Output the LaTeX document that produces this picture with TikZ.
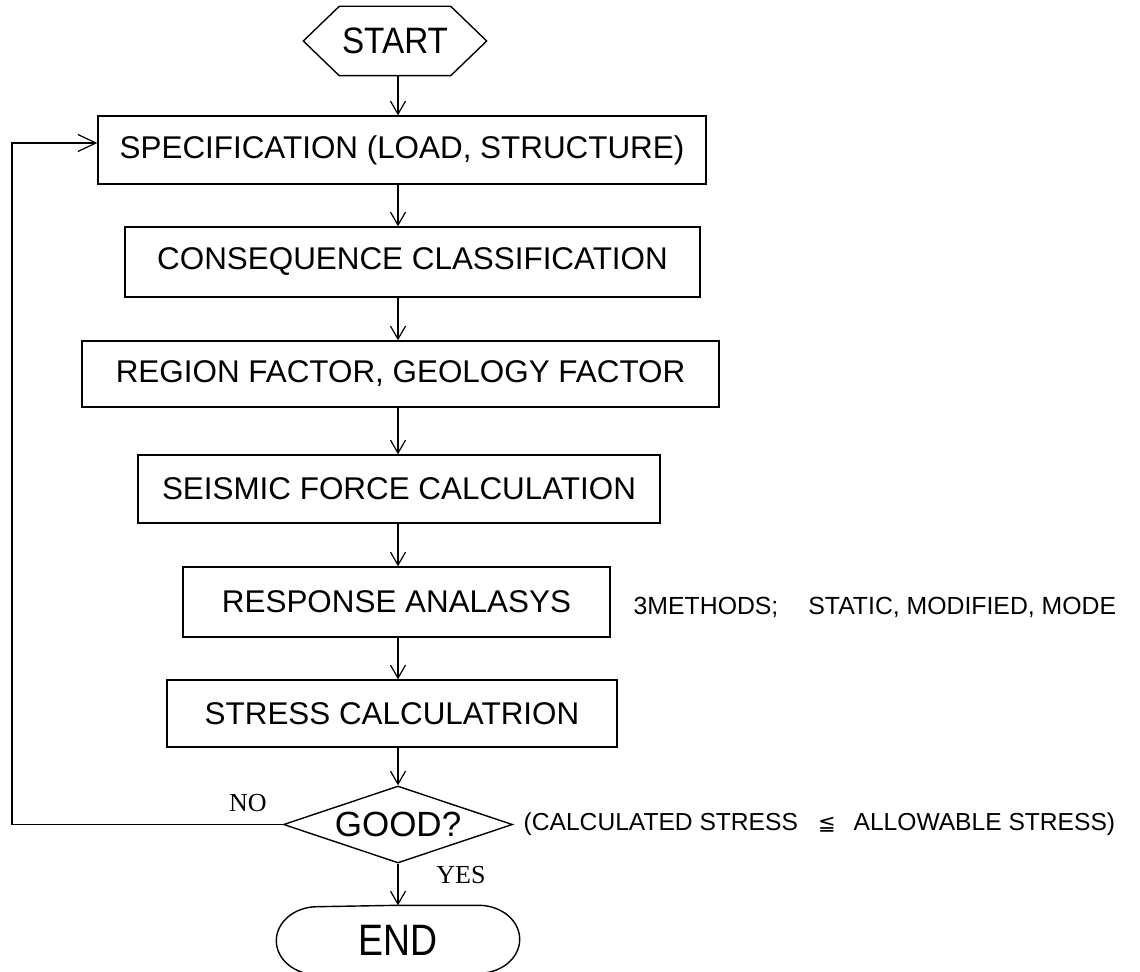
\documentclass[tikz,border=0pt]{standalone}
\usepackage{fontspec}
\usepackage{graphicx}
\newfontfamily\hel{Liberation Sans}
\newfontfamily\tms{Liberation Serif}
\newfontfamily\dvs{DejaVu Sans}
\usetikzlibrary{arrows.meta,shapes.geometric,calc}
\begin{document}
\begin{tikzpicture}[x=0.5pt,y=-0.5pt,
  line width=0.7pt,
  arr/.style={-{Straight Barb[length=6.5pt,width=7.5pt,line width=0.6pt]}},
  box/.style={draw,rectangle,inner sep=0pt,font=\hel\fontsize{15.7}{18}\selectfont},
  term/.style={rectangle,inner sep=0pt},
  lbl/.style={font=\tms\fontsize{13}{15}\selectfont,inner sep=0pt},
  note/.style={font=\hel\fontsize{12.4}{14}\selectfont,inner sep=0pt,anchor=west}]
\useasboundingbox (0,0) rectangle (1140,972);
\clip (0,0) rectangle (1140,972);
\coordinate (col) at (398,0);
\coordinate (fb) at (12,0);

% terminals
\node[term,minimum width=91pt,minimum height=34pt,font=\hel\fontsize{17.5}{20}\selectfont] (start) at (395,41) {\scalebox{0.95}[1.05]{START}};
\draw (start.west) -- ($(start.north west)+(36,0)$) -- ($(start.north east)+(-36,0)$) -- (start.east)
  -- ($(start.south east)+(-36,0)$) -- ($(start.south west)+(36,0)$) -- cycle;

\node[term,minimum width=121pt,minimum height=34pt,font=\hel\fontsize{22}{26}\selectfont] (end) at (398,940) {\scalebox{0.85}[1]{END}};
\draw (end.north) -- ($(end.north east)+(-41,0)$)
  arc[start angle=90,end angle=-90,x radius=20.5pt,y radius=17pt]
  -- ($(end.south west)+(41,0)$)
  arc[start angle=270,end angle=90,x radius=20.5pt,y radius=17pt] -- cycle;

% process boxes
\node[box,minimum width=304pt,minimum height=34pt] (spec) at (402,150) {SPECIFICATION (LOAD, STRUCTURE)};
\node[box,minimum width=287.5pt,minimum height=35pt] (cons) at (412.5,262) {CONSEQUENCE CLASSIFICATION};
\node[box,minimum width=318.5pt,minimum height=33pt] (region) at (400.5,374) {REGION FACTOR, GEOLOGY FACTOR};
\node[box,minimum width=261pt,minimum height=34pt] (seis) at (399,489) {SEISMIC FORCE CALCULATION};
\node[box,minimum width=213.5pt,minimum height=35pt] (resp) at (396.5,602) {RESPONSE ANALASYS};
\node[box,minimum width=225pt,minimum height=33.5pt] (stress) at (392,713.5) {STRESS CALCULATRION};

% decision
\node[draw,diamond,aspect=3,inner sep=0pt,minimum width=114.5pt,minimum height=38.5pt,
  font=\hel\fontsize{17.5}{20}\selectfont] (good) at (398,824.5) {GOOD?};

% connectors
\draw[arr] (start.south -| col) -- (spec.north -| col);
\draw[arr] (spec.south -| col) -- (cons.north -| col);
\draw[arr] (cons.south -| col) -- (region.north -| col);
\draw[arr] (region.south -| col) -- (seis.north -| col);
\draw[arr] (seis.south -| col) -- (resp.north -| col);
\draw[arr] (resp.south -| col) -- (stress.north -| col);
\draw[arr] (stress.south -| col) -- (good.north);
\draw[arr] (good.south) -- (end.north);

\coordinate (specin) at ($(spec.west)+(0,-7)$);
\draw[-{Straight Barb[length=9pt,width=8.5pt,line width=0.6pt]}] (good.west) -- (good.west -| fb) -- (specin -| fb) -- (specin);

% labels
\node[lbl] (no) at (248,803) {NO};
\node[lbl] (yes) at (461,875) {YES};
\node[note] (methods) at (633,607) {3METHODS;\hspace{15pt}STATIC, MODIFIED, MODE};
\node[note,font=\hel\fontsize{12.3}{14}\selectfont] (cond) at (523,824) {(CALCULATED STRESS\hspace{10pt}{\dvs\fontsize{10.5}{12}\selectfont ≦}\hspace{9pt}ALLOWABLE STRESS)};
\end{tikzpicture}
\end{document}
